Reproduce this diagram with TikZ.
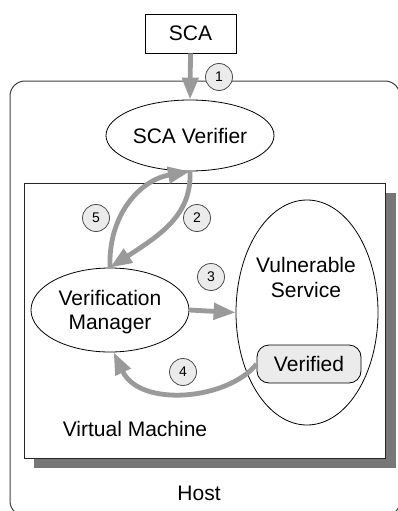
\documentclass[tikz,border=0pt]{standalone}
\usepackage{fontspec}
\setmainfont{Liberation Sans}
\usetikzlibrary{arrows.meta,shapes.geometric}
\definecolor{arrgray}{HTML}{9A9A9A}
\definecolor{shadowgray}{HTML}{777777}
\definecolor{numfill}{HTML}{EBEBEB}
\tikzset{
  big/.style={font=\fontsize{21}{25}\selectfont},
  flow/.style={draw=arrgray,line width=4.8pt,-{Triangle[length=22pt,width=16pt]}},
  num/.style={circle,draw=black!70,fill=numfill,line width=0.8pt,minimum size=27pt,inner sep=0pt,font=\fontsize{14}{16}\selectfont},
  oval/.style={ellipse,draw=black,line width=0.8pt,fill=white,inner sep=0pt},
}
\begin{document}
\begin{tikzpicture}[x=1pt,y=-1pt]
\useasboundingbox (0,0) rectangle (398,511);
\begin{scope}
\clip (0,0) rectangle (398,511);
\draw[black!75,line width=1pt,rounded corners=15pt] (10,81) rectangle (400,516);
\end{scope}
\node[big] (host) at (199,493) {Host};
% VM
\fill[shadowgray] (34,193) rectangle (396,468);
\draw[black!85,line width=1pt,fill=white] (24,183) rectangle (385,458);
\node[big] (vmlabel) at (135,429) {Virtual Machine};
% SCA
\node[draw=black,line width=0.8pt,minimum width=91pt,minimum height=39pt,inner sep=0pt,big] (sca) at (190.5,33.5) {SCA};
\node[oval,minimum width=168pt,minimum height=71pt,big] (ver) at (190,135.5) {SCA Verifier};
\node[oval,minimum width=158pt,minimum height=84pt,big,align=center] (mgr) at (110,310) {};
\node[big,align=center] (mgrtext) at (110,312) {Verification\\[-1pt]Manager};
\node[oval,minimum width=142pt,minimum height=225pt] (vs) at (307,312.5) {};
\node[big,align=center] (vstext) at (306,277) {Vulnerable\\[0pt]Service};
\node[draw=black,line width=0.8pt,fill=numfill,rounded corners=12pt,minimum width=104pt,minimum height=38pt,inner sep=0pt,big] (verif) at (309,364) {Verified};
% arrows
\draw[flow] (sca.south) -- (ver.north);
\draw[flow] (ver.south) .. controls (192,215) and (160,235) .. (mgr.north);
\draw[flow] (mgr.north) .. controls (108,215) and (140,180) .. (ver.south);
\draw[flow] (mgr.east) -- (vs.west);
\draw[flow] (verif.west) .. controls (228,400) and (140,408) .. (mgr.-85);
% numbers
\node[num] (n1) at (219,77) {1};
\node[num] (n2) at (197,218) {2};
\node[num] (n3) at (211,277) {3};
\node[num] (n4) at (183,372) {4};
\node[num] (n5) at (96,218) {5};
\end{tikzpicture}
\end{document}
